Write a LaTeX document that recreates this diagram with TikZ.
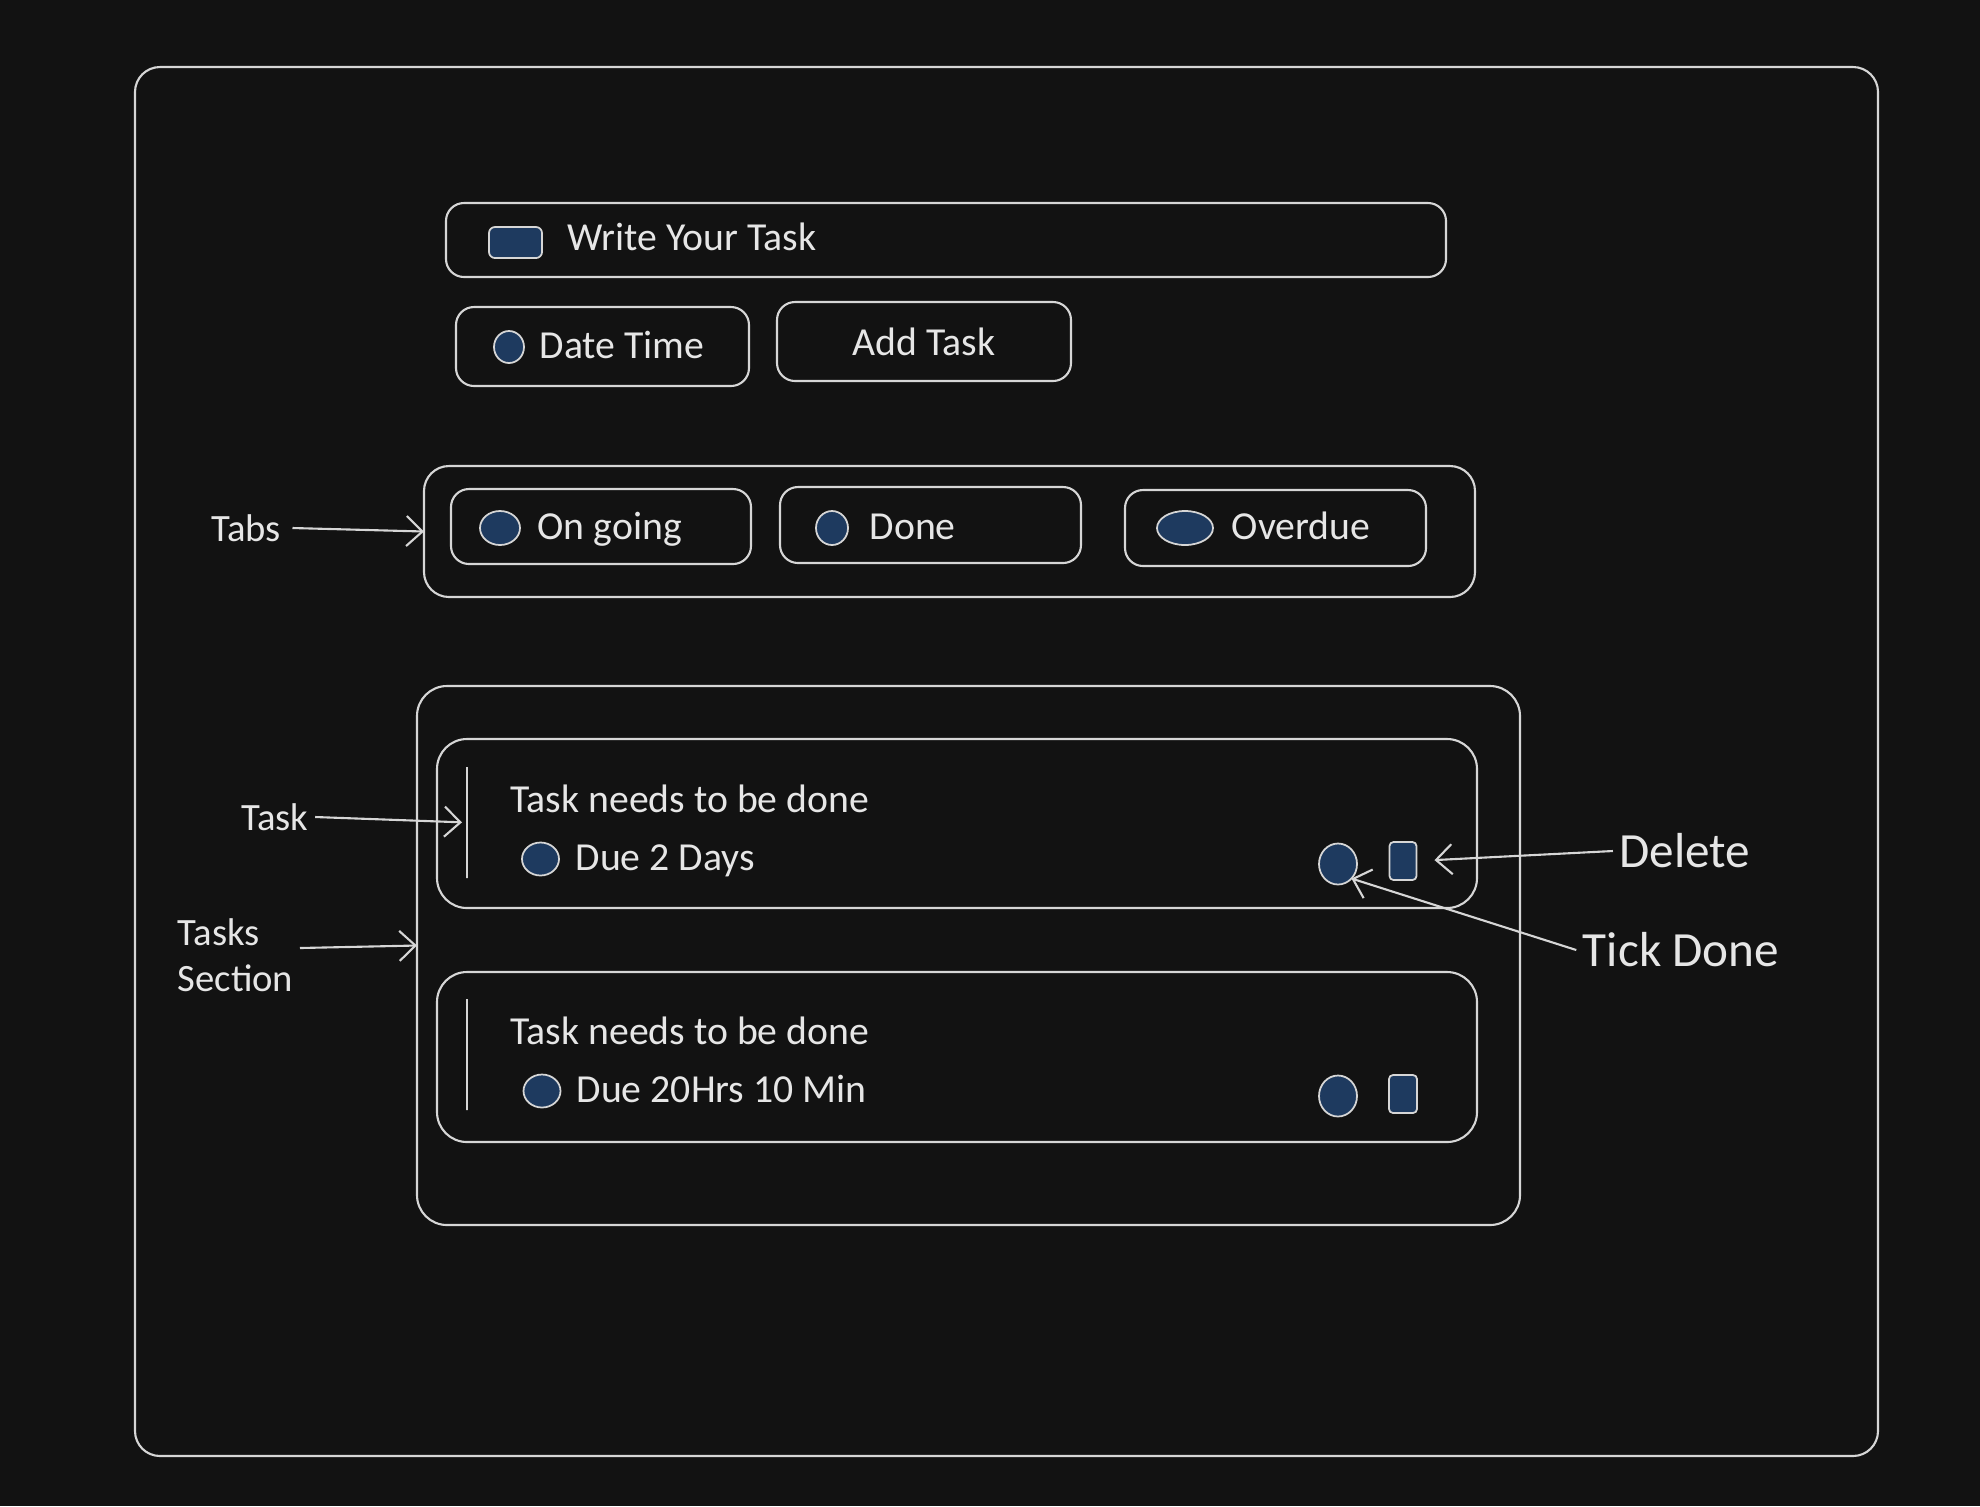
\documentclass[tikz,border=0pt]{standalone}
\usepackage{fontspec}
\setmainfont{Carlito}
\usetikzlibrary{arrows.meta,shapes.geometric}

\definecolor{bgdark}{HTML}{121212}
\definecolor{inkline}{HTML}{D6D6D6}
\definecolor{inktext}{HTML}{E6E6E6}
\definecolor{inkfill}{HTML}{1E3A5F}

\tikzset{
  panel/.style={draw=inkline, line width=0.6pt, rounded corners=0.18cm, inner sep=0pt, outer sep=0pt,
    text=inktext, font=\fontsize{11.3}{13}\selectfont},
  icon/.style={draw=inkline, fill=inkfill, line width=0.5pt, inner sep=0pt, outer sep=0pt},
  dot/.style={icon, ellipse},
  bar/.style={draw=inkline, line width=0.6pt, inner sep=0pt, outer sep=0pt, minimum width=0pt},
  txt/.style={text=inktext, font=\fontsize{11.3}{13}\selectfont, inner sep=0pt, anchor=west,
    text height=0.64em, text depth=0em},
  note/.style={text=inktext, font=\fontsize{11}{13}\selectfont, inner sep=0.06cm},
  bignote/.style={note, font=\fontsize{14}{16}\selectfont},
  pointer/.style={draw=inkline, line width=0.6pt, -{Straight Barb[length=0.16cm,width=0.3cm]}}
}

\begin{document}
\begin{tikzpicture}
    \useasboundingbox (0,0) rectangle (19.8,-15.06);
    \fill[bgdark] (0,0) rectangle (19.8,-15.06);

    % outer frame
    \node[panel, rounded corners=0.25cm, minimum width=17.43cm, minimum height=13.89cm] (frame) at (10.065,-7.615) {};

    % input row
    \node[panel, minimum width=10cm, minimum height=0.74cm] (input) at (9.46,-2.40) {};
    \node[icon, rounded corners=0.06cm, minimum width=0.53cm, minimum height=0.31cm] (inputicon) at (5.155,-2.425) {};
    \node[txt] (inputtext) at (5.67,-2.39) {Write Your Task};

    \node[panel, minimum width=2.93cm, minimum height=0.79cm] (date) at (6.025,-3.465) {};
    \node[dot, minimum width=0.30cm, minimum height=0.32cm] (dateicon) at (5.09,-3.47) {};
    \node[txt] (datetext) at (5.39,-3.47) {Date Time};
    \node[panel, minimum width=2.94cm, minimum height=0.79cm] (add) at (9.24,-3.415) {Add Task};

    % tabs
    \node[panel, rounded corners=0.25cm, minimum width=10.51cm, minimum height=1.31cm] (tabs) at (9.495,-5.315) {};
    \node[panel, minimum width=3.00cm, minimum height=0.75cm] (ongoing) at (6.01,-5.265) {};
    \node[dot, minimum width=0.40cm, minimum height=0.34cm] (ongoingicon) at (5.00,-5.28) {};
    \node[txt] (ongoingtext) at (5.37,-5.28) {On going};
    \node[panel, minimum width=3.01cm, minimum height=0.76cm] (done) at (9.305,-5.25) {};
    \node[dot, minimum width=0.32cm, minimum height=0.34cm] (doneicon) at (8.32,-5.28) {};
    \node[txt] (donetext) at (8.69,-5.28) {Done};
    \node[panel, minimum width=3.01cm, minimum height=0.76cm] (overdue) at (12.755,-5.28) {};
    \node[dot, minimum width=0.56cm, minimum height=0.34cm] (overdueicon) at (11.85,-5.28) {};
    \node[txt] (overduetext) at (12.31,-5.28) {Overdue};

    % tasks section
    \node[panel, rounded corners=0.3cm, minimum width=11.03cm, minimum height=5.39cm] (section) at (9.685,-9.555) {};

    \node[panel, rounded corners=0.3cm, minimum width=10.40cm, minimum height=1.69cm] (card1) at (9.57,-8.235) {};
    \node[bar, minimum height=1.11cm] (bar1) at (4.67,-8.225) {};
    \node[txt] (title1) at (5.10,-8.01) {Task needs to be done};
    \node[dot, minimum width=0.37cm, minimum height=0.33cm] (dueicon1) at (5.405,-8.59) {};
    \node[txt] (due1) at (5.75,-8.59) {Due 2 Days};
    \node[dot, minimum width=0.38cm, minimum height=0.41cm] (tick1) at (13.38,-8.64) {};
    \node[icon, rounded corners=0.04cm, minimum width=0.27cm, minimum height=0.38cm] (del1) at (14.03,-8.61) {};

    \node[panel, rounded corners=0.3cm, minimum width=10.40cm, minimum height=1.70cm] (card2) at (9.57,-10.57) {};
    \node[bar, minimum height=1.11cm] (bar2) at (4.67,-10.545) {};
    \node[txt] (title2) at (5.10,-10.33) {Task needs to be done};
    \node[dot, minimum width=0.37cm, minimum height=0.33cm] (dueicon2) at (5.42,-10.91) {};
    \node[txt] (due2) at (5.76,-10.91) {Due 20Hrs 10 Min};
    \node[dot, minimum width=0.38cm, minimum height=0.41cm] (tick2) at (13.38,-10.96) {};
    \node[icon, rounded corners=0.04cm, minimum width=0.28cm, minimum height=0.38cm] (del2) at (14.03,-10.94) {};

    % labels
    \node[note] (tabslabel) at (2.46,-5.28) {Tabs};
    \node[note] (tasklabel) at (2.75,-8.17) {Task};
    \node[note, align=left, anchor=west] (sectionlabel) at (1.71,-9.55) {Tasks\\Section};
    \node[bignote] (deletelabel) at (16.85,-8.51) {Delete};
    \node[bignote] (ticklabel) at (16.81,-9.50) {Tick Done};

    \draw[pointer] ([xshift=0.05cm]tabslabel.east) -- (tabs.west);
    \draw[pointer, shorten >=0.05cm] (tasklabel.east) -- (bar1.west);
    \draw[pointer] ([yshift=0.07cm]sectionlabel.east) -- ([yshift=0.1cm]section.west);
    \draw[pointer, shorten >=0.18cm] (deletelabel.west) -- (del1.east);
    \draw[pointer] (ticklabel.west) -- (tick1.south east);

\end{tikzpicture}
\end{document}
